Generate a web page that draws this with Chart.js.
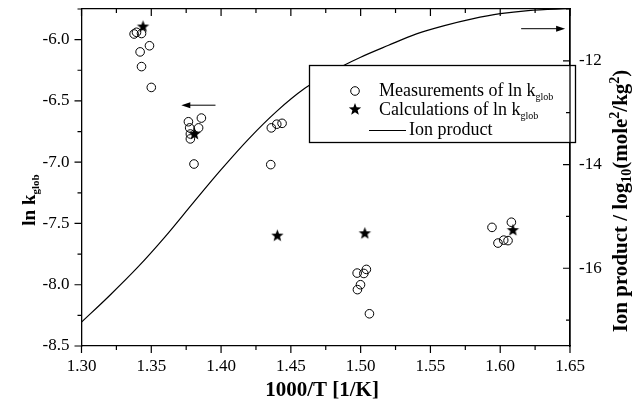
<!DOCTYPE html>
<html>
<head>
<meta charset="utf-8">
<script src="https://cdn.jsdelivr.net/npm/chart.js@4.4.1/dist/chart.umd.min.js"></script>
<style>
  html, body { margin: 0; padding: 0; background: #fff; }
  #wrap { width: 634px; height: 405px; }
</style>
</head>
<body>
<div id="wrap"><canvas id="kChart" width="634" height="405"></canvas></div>
<script>
// измерения ln k_glob (кружки)
const measX = [1.3377, 1.3394, 1.3430, 1.3487, 1.3420, 1.3430, 1.3500,
               1.3766, 1.3859, 1.3775, 1.3839, 1.3780, 1.3780, 1.3806,
               1.4360, 1.4399, 1.4437, 1.4356,
               1.4975, 1.5023, 1.5041, 1.4999, 1.4977, 1.5063,
               1.5941, 1.6080, 1.5984, 1.6025, 1.6056];
const measY = [-5.954, -5.940, -5.950, -6.050, -6.100, -6.220, -6.390,
               -6.670, -6.640, -6.720, -6.720, -6.770, -6.810, -7.015,
               -6.720, -6.690, -6.683, -7.020,
               -7.905, -7.908, -7.875, -8.000, -8.040, -8.237,
               -7.532, -7.490, -7.660, -7.636, -7.640];

// расчёт ln k_glob (звёзды)
const calcX = [1.3441, 1.3810, 1.4403, 1.5030, 1.6091];
const calcY = [-5.889, -6.765, -7.595, -7.576, -7.550];

// ионное произведение (правая ось)
const ionX = [1.30, 1.32, 1.34, 1.36, 1.38, 1.40, 1.42, 1.44, 1.46,
              1.48, 1.50, 1.52, 1.54, 1.56, 1.58, 1.60, 1.62, 1.65];
const ionY = [-17.04, -16.53, -15.99, -15.39, -14.74, -14.10, -13.50, -12.97, -12.53,
              -12.20, -11.93, -11.70, -11.48, -11.32, -11.19, -11.09, -11.03, -10.99];

// оси
const xMin = 1.30, xMax = 1.65;
const yMin = -8.5, yMax = -5.75;
const y2Min = -17.5, y2Max = -11;
const xTickLabels = ['1.30', '1.35', '1.40', '1.45', '1.50', '1.55', '1.60', '1.65'];
const yTickLabels = ['-8.5', '-8.0', '-7.5', '-7.0', '-6.5', '-6.0'];
const y2TickLabels = ['-16', '-14', '-12'];

const FONT = '"Liberation Serif", "Times New Roman", serif';

// звезда как картинка для pointStyle
function makeStar(r) {
  const c = document.createElement('canvas');
  const s = Math.ceil(r * 2 + 2);
  c.width = s; c.height = s;
  const g = c.getContext('2d');
  starPath(g, s / 2, s / 2 + r * 0.1, r);
  g.fillStyle = '#000';
  g.fill();
  return c;
}
function starPath(g, cx, cy, r) {
  const ri = r * 0.42;
  g.beginPath();
  for (let i = 0; i < 10; i++) {
    const rr = i % 2 === 0 ? r : ri;
    const a = -Math.PI / 2 + i * Math.PI / 5;
    const px = cx + rr * Math.cos(a), py = cy + rr * Math.sin(a);
    if (i === 0) g.moveTo(px, py); else g.lineTo(px, py);
  }
  g.closePath();
}
const starImg = makeStar(6.5);

// текст с индексами
function richWidth(ctx, parts) {
  let w = 0;
  parts.forEach(p => {
    ctx.font = (p.b ? 'bold ' : '') + p.s + 'px ' + FONT;
    w += ctx.measureText(p.t).width;
  });
  return w;
}
function richText(ctx, parts, x, y) {
  let cx = x;
  parts.forEach(p => {
    ctx.font = (p.b ? 'bold ' : '') + p.s + 'px ' + FONT;
    ctx.fillText(p.t, cx, y + (p.dy || 0));
    cx += ctx.measureText(p.t).width;
  });
  return cx;
}

function arrow(ctx, x1, y1, x2, y2) {
  const a = Math.atan2(y2 - y1, x2 - x1);
  ctx.beginPath();
  ctx.moveTo(x1, y1);
  ctx.lineTo(x2 - 7 * Math.cos(a), y2 - 7 * Math.sin(a));
  ctx.stroke();
  ctx.beginPath();
  ctx.moveTo(x2, y2);
  ctx.lineTo(x2 - 9 * Math.cos(a) + 3 * Math.sin(a), y2 - 9 * Math.sin(a) - 3 * Math.cos(a));
  ctx.lineTo(x2 - 9 * Math.cos(a) - 3 * Math.sin(a), y2 - 9 * Math.sin(a) + 3 * Math.cos(a));
  ctx.closePath();
  ctx.fill();
}

const decorPlugin = {
  id: 'decor',
  afterDatasetsDraw(chart) {
    const ctx = chart.ctx;
    const sx = chart.scales.x, sy = chart.scales.y, sy2 = chart.scales.y2;
    ctx.save();
    ctx.strokeStyle = '#000';
    ctx.fillStyle = '#000';
    ctx.lineWidth = 1;
    // стрелки к осям
    arrow(ctx, sx.getPixelForValue(1.3960), sy.getPixelForValue(-6.535),
               sx.getPixelForValue(1.3715), sy.getPixelForValue(-6.535));
    arrow(ctx, sx.getPixelForValue(1.6150), sy2.getPixelForValue(-11.38),
               sx.getPixelForValue(1.6465), sy2.getPixelForValue(-11.38));

    // легенда
    const bx = 309.5, by = 65.5, bw = 266, bh = 77;
    ctx.fillStyle = '#fff';
    ctx.fillRect(bx, by, bw, bh);
    ctx.lineWidth = 1.3;
    ctx.strokeRect(bx, by, bw, bh);
    ctx.fillStyle = '#000';
    ctx.lineWidth = 1;
    ctx.beginPath();
    ctx.arc(355, 91, 4.3, 0, Math.PI * 2);
    ctx.stroke();
    starPath(ctx, 355, 109.5, 6.5);
    ctx.fill();
    ctx.beginPath();
    ctx.moveTo(369, 130.5);
    ctx.lineTo(406, 130.5);
    ctx.stroke();
    ctx.textBaseline = 'alphabetic';
    ctx.textAlign = 'left';
    richText(ctx, [{t: 'Measurements of ln k', s: 18}, {t: 'glob', s: 10, dy: 4}], 379, 96);
    richText(ctx, [{t: 'Calculations of ln k', s: 18}, {t: 'glob', s: 10, dy: 4}], 379, 115);
    richText(ctx, [{t: 'Ion product', s: 18}], 409, 135);
    ctx.restore();
  },
  afterDraw(chart) {
    const ctx = chart.ctx;
    const a = chart.chartArea;
    const sx = chart.scales.x, sy = chart.scales.y, sy2 = chart.scales.y2;
    ctx.save();
    ctx.strokeStyle = '#000';
    ctx.fillStyle = '#000';
    ctx.lineWidth = 1.3;
    // правая ось поверх легенды
    ctx.beginPath();
    ctx.moveTo(a.right, a.top);
    ctx.lineTo(a.right, a.bottom);
    ctx.stroke();
    ctx.lineWidth = 1.2;
    ctx.beginPath();
    // штрихи по x: снизу наружу, сверху внутрь
    for (let i = 0; i <= 14; i++) {
      const px = sx.getPixelForValue(xMin + i * 0.025);
      const len = i % 2 === 0 ? 7 : 4;
      ctx.moveTo(px, a.bottom); ctx.lineTo(px, a.bottom + len);
      ctx.moveTo(px, a.top); ctx.lineTo(px, a.top + len);
    }
    // левая ось наружу
    for (let i = 0; i <= 11; i++) {
      const py = sy.getPixelForValue(yMin + i * 0.25);
      const len = i % 2 === 0 ? 7 : 4;
      ctx.moveTo(a.left, py); ctx.lineTo(a.left - len, py);
    }
    // правая ось внутрь
    for (let v = -17; v <= -11; v++) {
      const py = sy2.getPixelForValue(v);
      const len = v % 2 === 0 ? 7 : 4;
      ctx.moveTo(a.right, py); ctx.lineTo(a.right - len, py);
    }
    ctx.stroke();

    // подписи осей
    ctx.textAlign = 'left';
    ctx.textBaseline = 'alphabetic';
    const bottomTitle = [{t: '1000/T [1/K]', s: 21, b: true}];
    richText(ctx, bottomTitle, 322 - richWidth(ctx, bottomTitle) / 2, 396);

    const leftTitle = [{t: 'ln k', s: 19, b: true}, {t: 'glob', s: 11, b: true, dy: 4}];
    ctx.save();
    ctx.translate(35, 200);
    ctx.rotate(-Math.PI / 2);
    richText(ctx, leftTitle, -richWidth(ctx, leftTitle) / 2, 0);
    ctx.restore();

    const rightTitle = [
      {t: 'Ion product / log', s: 21, b: true},
      {t: '10', s: 14, b: true, dy: 4},
      {t: '(mole', s: 21, b: true},
      {t: '2', s: 14, b: true, dy: -8},
      {t: '/kg', s: 21, b: true},
      {t: '2', s: 14, b: true, dy: -8},
      {t: ')', s: 21, b: true}
    ];
    ctx.save();
    ctx.translate(627, 201);
    ctx.rotate(-Math.PI / 2);
    richText(ctx, rightTitle, -richWidth(ctx, rightTitle) / 2, 0);
    ctx.restore();
    ctx.restore();
  }
};

const tickFont = { family: FONT, size: 17 };

// убираем запас под крайние подписи, чтобы область графика стояла точно
function noPad(s) {
  s.paddingTop = 0; s.paddingBottom = 0; s.paddingLeft = 0; s.paddingRight = 0;
}

const kChart = new Chart(document.getElementById('kChart'), {
  type: 'scatter',
  data: {
    datasets: [
      {
        label: 'Ion product',
        type: 'line',
        data: ionX.map((x, i) => ({ x: x, y: ionY[i] })),
        yAxisID: 'y2',
        borderColor: '#000',
        borderWidth: 1.2,
        pointRadius: 0,
        cubicInterpolationMode: 'monotone',
        fill: false,
        order: 3
      },
      {
        label: 'Measurements of ln k_glob',
        data: measX.map((x, i) => ({ x: x, y: measY[i] })),
        yAxisID: 'y',
        pointStyle: 'circle',
        pointRadius: 4.3,
        borderColor: '#000',
        borderWidth: 1,
        backgroundColor: 'rgba(0,0,0,0)',
        order: 2
      },
      {
        label: 'Calculations of ln k_glob',
        data: calcX.map((x, i) => ({ x: x, y: calcY[i] })),
        yAxisID: 'y',
        pointStyle: starImg,
        order: 1
      }
    ]
  },
  options: {
    responsive: false,
    animation: false,
    layout: { padding: 0, autoPadding: false },
    plugins: { legend: { display: false }, tooltip: { enabled: false } },
    scales: {
      x: {
        type: 'linear', position: 'bottom', min: xMin, max: xMax,
        grid: { display: false, drawTicks: true, tickLength: 7 },
        border: { display: true, color: '#000', width: 1.3 },
        ticks: {
          stepSize: 0.05, color: '#000', font: tickFont, padding: 3, maxRotation: 0,
          callback: v => {
            const s = v.toFixed(2);
            return xTickLabels.includes(s) ? s : '';
          }
        },
        afterFit: s => { s.height = 59; noPad(s); }
      },
      x2: {
        type: 'linear', position: 'top', min: xMin, max: xMax,
        grid: { display: false, drawTicks: false },
        border: { display: true, color: '#000', width: 1.3 },
        ticks: { display: false },
        afterFit: s => { s.height = 9; noPad(s); }
      },
      y: {
        type: 'linear', position: 'left', min: yMin, max: yMax,
        grid: { display: false, drawTicks: true, tickLength: 7 },
        border: { display: true, color: '#000', width: 1.3 },
        ticks: {
          stepSize: 0.25, color: '#000', font: tickFont, padding: 5,
          callback: v => {
            const s = v.toFixed(1);
            return (Math.abs(v * 2 - Math.round(v * 2)) < 1e-6 && yTickLabels.includes(s)) ? s : '';
          }
        },
        afterFit: s => { s.width = 81.5; noPad(s); }
      },
      y2: {
        type: 'linear', position: 'right', min: y2Min, max: y2Max,
        grid: { display: false, drawTicks: false },
        border: { display: true, color: '#000', width: 1.3 },
        ticks: {
          stepSize: 1, color: '#000', font: tickFont, padding: 9,
          callback: v => {
            const s = String(v);
            return y2TickLabels.includes(s) ? s : '';
          }
        },
        afterFit: s => { s.width = 64; noPad(s); }
      }
    }
  },
  plugins: [decorPlugin]
});
</script>
</body>
</html>
